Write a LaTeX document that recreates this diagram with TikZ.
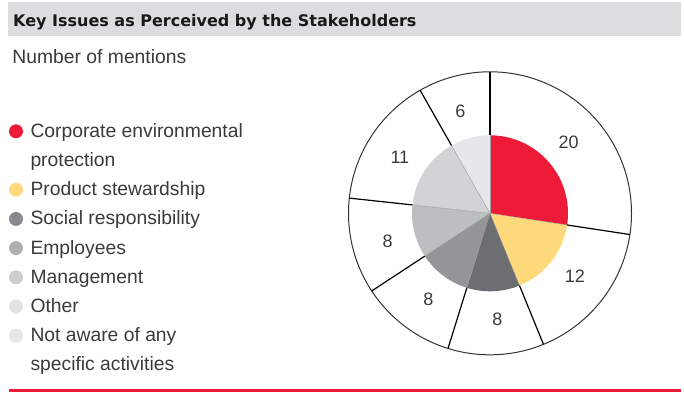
\documentclass[tikz,border=0pt]{standalone}
\usepackage{fontspec}
\setmainfont{Liberation Sans}
\newfontfamily\titlefont{DejaVu Sans}
\usepackage{tikz}
\usetikzlibrary{calc}

\definecolor{keyred}{RGB}{237,27,56}
\definecolor{keyyellow}{RGB}{255,218,125}
\definecolor{greyA}{RGB}{109,110,113}
\definecolor{greyB}{RGB}{147,149,152}
\definecolor{greyC}{RGB}{188,190,192}
\definecolor{greyD}{RGB}{209,211,212}
\definecolor{greyE}{RGB}{230,231,232}
\definecolor{barfill}{RGB}{220,221,223}
\definecolor{textgrey}{RGB}{58,58,58}

\begin{document}
\begin{tikzpicture}[x=1pt, y=1pt, line width=1pt,
  txt/.style={text=textgrey, inner sep=0pt, font=\fontsize{19.3}{29.2}\selectfont},
  numlbl/.style={text=textgrey, inner sep=0pt, font=\fontsize{18}{18}\selectfont},
  dot/.style={circle, inner sep=0pt, minimum size=14pt},
  sep/.style={black, line width=1.2pt}]
\useasboundingbox (0,0) rectangle (684,394);

% title bar
\fill[barfill] (8,358) rectangle (681,391.7);
\node[anchor=base west, inner sep=0pt, text=black!90,
  font=\titlefont\bfseries\fontsize{16}{16}\selectfont] (title) at (12.7,367.3)
  {Key Issues as Perceived by the Stakeholders};
\node[txt, anchor=base west] (unit) at (12,330.5) {Number of mentions};

% legend
\foreach \r/\c in {0/keyred, 2/keyyellow, 3/greyB!92!black, 4/greyC!92!black,
    5/greyD!97!black, 6/greyE!98!black, 7/greyE}
  \node[dot, fill=\c] (dot\r) at (16,256.7-\r*29.2+6) {};
\foreach \t [count=\r from 0] in {Corporate environmental, protection,
    Product stewardship, Social responsibility, Employees, Management,
    Other, Not aware of any, specific activities}
  \node[txt, anchor=base west] (key\r) at (30,256.7-\r*29.2) {\t};

% pie
\coordinate (ctr) at (490,180.7);
\draw[black!80] (ctr) circle[radius=141.5];
\def\s{90}
\foreach \v/\c [count=\i] in {20/keyred,12/keyyellow,8/greyA,8/greyB,8/greyC,11/greyD,6/greyE}{
  \pgfmathsetmacro\e{\s-\v*360/73}
  \pgfmathsetmacro\m{(\s+\e)/2}
  \fill[\c] (ctr) -- ($(ctr)+(\s:78)$) arc[start angle=\s, end angle=\e, radius=78] -- cycle;
  \draw[black!40, line width=0.4pt] (ctr) -- ($(ctr)+(\s:78)$);
  \draw[sep] ($(ctr)+(\s:78)$) -- ($(ctr)+(\s:141.5)$);
  \node[numlbl] (lbl\i) at ($(ctr)+(\m+1.5:106)$) {\v};
  \xdef\s{\e}
}

% rule
\draw[keyred, line width=2.7pt] (8.7,3.7) -- (681,3.7);
\end{tikzpicture}
\end{document}
